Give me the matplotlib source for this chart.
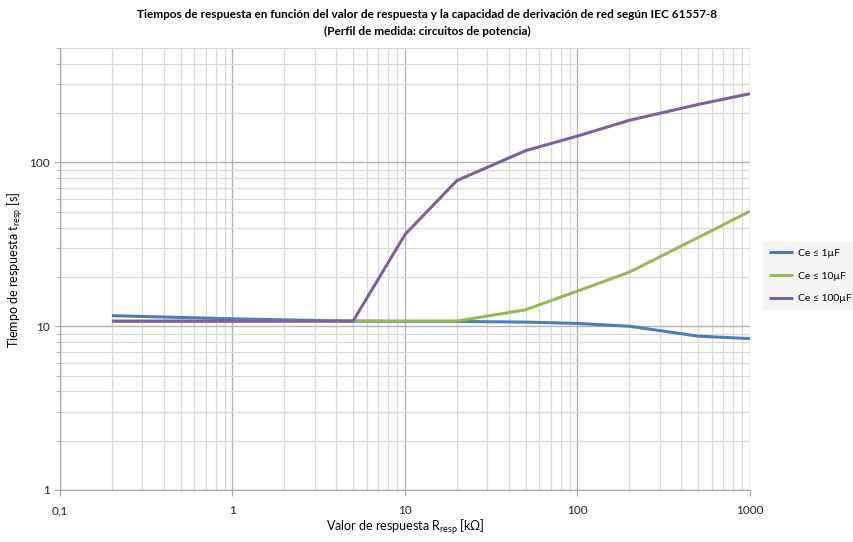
import matplotlib
matplotlib.use("Agg")
import matplotlib.pyplot as plt
from matplotlib.ticker import FixedLocator, NullFormatter, LogLocator

plt.rcParams['font.family'] = ['Lato', 'DejaVu Sans']
plt.rcParams['mathtext.fontset'] = 'custom'
plt.rcParams['mathtext.rm'] = 'Lato'

# data
r_resp = [0.2, 1, 5, 10, 20, 50, 100, 200, 500, 1000]
t_1uF = [11.6, 11.1, 10.75, 10.7, 10.7, 10.6, 10.4, 10.0, 8.7, 8.4]
t_10uF = [10.7, 10.7, 10.75, 10.75, 10.75, 12.6, 16.4, 21.4, 34.8, 50.4]
t_100uF = [10.75, 10.75, 10.75, 36.3, 77.6, 118, 145, 181, 226, 263]
labels = ["Ce ≤ 1µF", "Ce ≤ 10µF", "Ce ≤ 100µF"]
colors = ["#4a7ebb", "#98b954", "#7d60a0"]

x_ticks = [0.1, 1, 10, 100, 1000]
x_ticklabels = ["0,1", "1", "10", "100", "1000"]
y_ticks = [1, 10, 100]
y_ticklabels = ["1", "10", "100"]

fig = plt.figure(figsize=(8.54, 5.42), dpi=100)
ax = fig.add_axes([60/854, 1 - 490/542, 690/854, 442/542])

for y, lab, c in zip([t_1uF, t_10uF, t_100uF], labels, colors):
    ax.plot(r_resp, y, color=c, lw=2.2, label=lab, solid_capstyle='butt')

ax.set_xscale('log')
ax.set_yscale('log')
ax.set_xlim(0.1, 1000)
ax.set_ylim(1, 500)

ax.xaxis.set_major_locator(FixedLocator(x_ticks))
ax.set_xticklabels(x_ticklabels)
ax.yaxis.set_major_locator(FixedLocator(y_ticks))
ax.set_yticklabels(y_ticklabels)
ax.xaxis.set_minor_locator(LogLocator(base=10, subs=range(2, 10), numticks=20))
ax.yaxis.set_minor_locator(LogLocator(base=10, subs=range(2, 10), numticks=20))
ax.xaxis.set_minor_formatter(NullFormatter())
ax.yaxis.set_minor_formatter(NullFormatter())

ax.grid(which='major', color='#b3b3b3', lw=1.0)
ax.grid(which='minor', color='#d9d9d9', lw=0.9)
ax.set_axisbelow(True)

for s in ['top', 'right']:
    ax.spines[s].set_visible(False)
for s in ['left', 'bottom']:
    ax.spines[s].set_color('#a6a6a6')
ax.tick_params(which='major', length=4, color='#a6a6a6', labelsize=8.5, labelcolor='#222222')
ax.tick_params(which='minor', length=3, color='#a6a6a6')
ax.tick_params(axis='x', which='minor', length=0)
ax.tick_params(axis='x', pad=7)

ax.set_xlabel(r"Valor de respuesta R$_{\rm resp}$ [kΩ]", fontsize=9)
ax.set_ylabel(r"Tiempo de respuesta t$_{\rm resp}$ [s]", fontsize=9)
ax.xaxis.set_label_coords((405 - 60) / 690, -(517 - 490) / 442)
ax.yaxis.set_label_coords(-(60 - 25) / 690, (490 - 270) / 442)

fig.text(427/854, 1 - 15/542,
         "Tiempos de respuesta en función del valor de respuesta y la capacidad de derivación de red según IEC 61557-8",
         ha='center', va='center', fontsize=8.5, fontweight='bold')
fig.text(427/854, 1 - 31/542, "(Perfil de medida: circuitos de potencia)",
         ha='center', va='center', fontsize=8.5, fontweight='bold')

leg = fig.legend(loc='center left', bbox_to_anchor=(763/854, 1 - 276/542), frameon=True,
                 fontsize=7.5, handlelength=2.3, handletextpad=0.5, labelspacing=1.3,
                 borderpad=0.6, borderaxespad=0)
leg.get_frame().set_facecolor('#f2f2f2')
leg.get_frame().set_edgecolor('none')
leg.get_frame().set_boxstyle('square', pad=0)

fig.savefig("out.png", dpi=100)
